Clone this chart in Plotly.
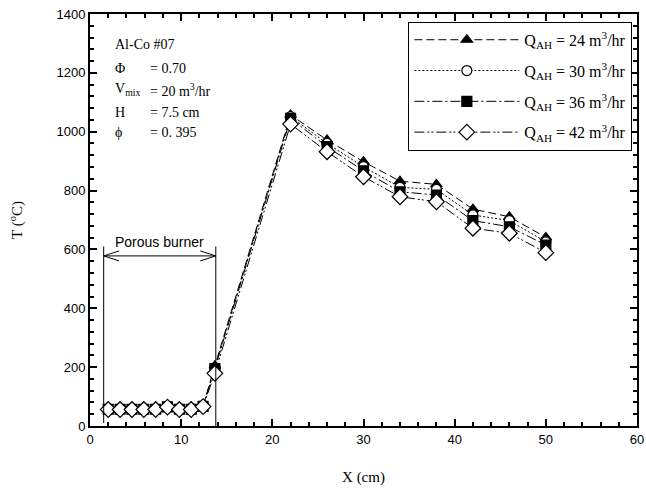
import plotly.graph_objects as go

x_vals = [2.0, 3.3, 4.6, 5.9, 7.2, 8.5, 9.8, 11.1, 12.4, 13.7, 22, 26, 30, 34, 38, 42, 46, 50]

t_q24 = [58, 58, 58, 58, 58, 66, 58, 58, 68, 205, 1057, 972, 898, 832, 821, 737, 711, 641]
t_q30 = [57, 57, 57, 57, 57, 65, 57, 57, 67, 198, 1051, 960, 881, 811, 804, 717, 698, 626]
t_q36 = [57, 57, 57, 57, 57, 65, 57, 57, 67, 195, 1045, 949, 867, 796, 785, 698, 677, 615]
t_q42 = [56, 56, 56, 56, 56, 64, 56, 56, 66, 179, 1026, 932, 847, 779, 762, 672, 655, 589]

series_names = [
    "Q<sub>AH</sub> = 24 m<sup>3</sup>/hr",
    "Q<sub>AH</sub> = 30 m<sup>3</sup>/hr",
    "Q<sub>AH</sub> = 36 m<sup>3</sup>/hr",
    "Q<sub>AH</sub> = 42 m<sup>3</sup>/hr",
]

burner_start = 1.5
burner_end = 13.8
burner_arrow_y = 578
burner_line_top = 610

SERIF = "Liberation Serif"
SANS = "Liberation Sans"

styles = [
    dict(dash="8px,4px", symbol="triangle-up", fill="black", size=10),
    dict(dash="2px,2px", symbol="circle", fill="white", size=10),
    dict(dash="10px,3px,2px,3px", symbol="square", fill="black", size=10),
    dict(dash="10px,3px,2px,2px,2px,3px", symbol="diamond", fill="white", size=12),
]

fig = go.Figure()
for i, (name, ys, st) in enumerate(zip(series_names, [t_q24, t_q30, t_q36, t_q42], styles)):
    fig.add_trace(go.Scatter(
        x=x_vals, y=ys, name=name, mode="lines+markers", legendgroup=f"g{i}",
        line=dict(color="black", width=1, dash=st["dash"]),
        marker=dict(symbol=st["symbol"], size=st["size"],
                    color=st["fill"], line=dict(color="black", width=1.2)),
    ))

line_style = dict(color="black", width=1)
shapes = [
    dict(type="line", xref="x", yref="y", x0=burner_start, x1=burner_start, y0=10, y1=burner_line_top, line=line_style),
    dict(type="line", xref="x", yref="y", x0=burner_end, x1=burner_end, y0=0, y1=burner_line_top, line=line_style),
    dict(type="line", xref="x", yref="y", x0=burner_start, x1=burner_end, y0=burner_arrow_y, y1=burner_arrow_y, line=line_style),
    dict(type="line", xref="x", yref="y", x0=burner_start, x1=burner_start + 1.7, y0=burner_arrow_y, y1=burner_arrow_y + 17, line=line_style),
    dict(type="line", xref="x", yref="y", x0=burner_start, x1=burner_start + 1.7, y0=burner_arrow_y, y1=burner_arrow_y - 17, line=line_style),
    dict(type="line", xref="x", yref="y", x0=burner_end, x1=burner_end - 1.7, y0=burner_arrow_y, y1=burner_arrow_y + 17, line=line_style),
    dict(type="line", xref="x", yref="y", x0=burner_end, x1=burner_end - 1.7, y0=burner_arrow_y, y1=burner_arrow_y - 17, line=line_style),
]

annotations = [
    dict(x=(burner_start + burner_end) / 2, y=burner_arrow_y + 12, text="Porous burner", showarrow=False,
         xanchor="center", yanchor="bottom", font=dict(family=SANS, size=14, color="black")),
]

left_labels = ["Al-Co #07", "Φ", "V<sub>mix</sub>", "H", "ϕ"]
right_labels = ["", "= 0.70", "= 20 m<sup>3</sup>/hr", "= 7.5 cm", "= 0. 395"]
label_y = [1295, 1216, 1142, 1067, 996]
for ltxt, rtxt, yy in zip(left_labels, right_labels, label_y):
    annotations.append(dict(x=2.5, y=yy, text=ltxt, showarrow=False, xanchor="left", yanchor="middle",
                            font=dict(family=SERIF, size=14, color="black")))
    if rtxt:
        annotations.append(dict(x=6.4, y=yy, text=rtxt, showarrow=False, xanchor="left", yanchor="middle",
                                font=dict(family=SERIF, size=14, color="black")))

axis_common = dict(
    showgrid=False, zeroline=False, showline=True, linecolor="black", linewidth=2,
    mirror="ticks", ticks="inside", ticklen=7, tickwidth=2, tickcolor="black",
    tickfont=dict(family=SANS, size=13, color="black"), automargin=False,
)

fig.update_layout(
    width=646, height=490,
    margin=dict(l=90, r=9, t=14, b=64),
    paper_bgcolor="white", plot_bgcolor="white",
    shapes=shapes, annotations=annotations,
    showlegend=True,
    legend=dict(x=0.582, y=0.981, xanchor="left", yanchor="top",
                bordercolor="black", borderwidth=1, bgcolor="white",
                font=dict(family=SERIF, size=16, color="black"),
                itemwidth=105, tracegroupgap=7),
    xaxis=dict(range=[0, 60], dtick=10, tick0=0,
               minor=dict(dtick=2, ticks="inside", ticklen=4, tickwidth=2, tickcolor="black"),
               title=dict(text="X (cm)", font=dict(family=SERIF, size=15, color="black"), standoff=26),
               **axis_common),
    yaxis=dict(range=[0, 1400], dtick=200, tick0=0,
               minor=dict(dtick=40, ticks="inside", ticklen=4, tickwidth=2, tickcolor="black"),
               title=dict(text="T (<sup>o</sup>C)", font=dict(family=SERIF, size=15, color="black"), standoff=30),
               **axis_common),
)

fig.write_html("out.html")
